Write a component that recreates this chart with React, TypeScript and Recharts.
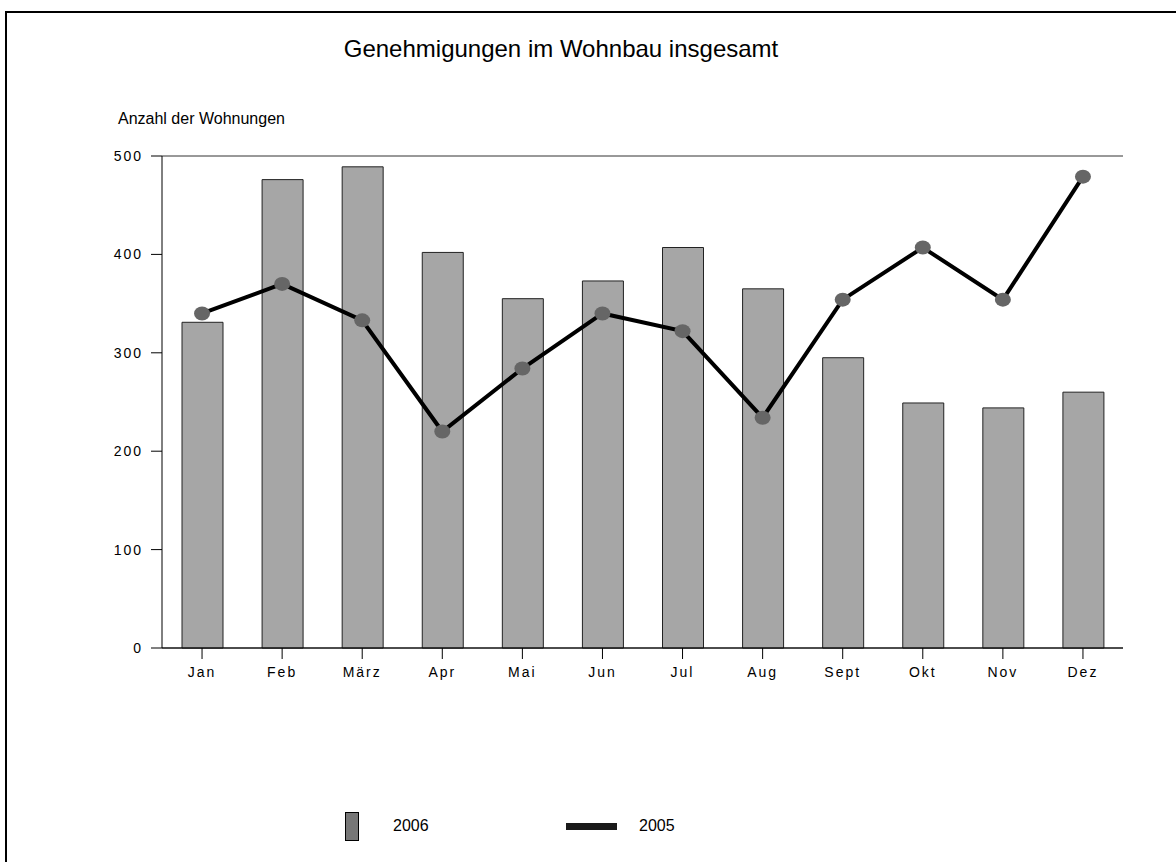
import React from "react";
import {
  ComposedChart,
  Bar,
  Line,
  XAxis,
  YAxis,
  CartesianGrid,
  Legend
} from "recharts";

// Monate
const months = ["Jan", "Feb", "März", "Apr", "Mai", "Jun", "Jul", "Aug", "Sept", "Okt", "Nov", "Dez"];

// Genehmigungen 2006 (Säulen)
const values2006 = [331, 476, 489, 402, 355, 373, 407, 365, 295, 249, 244, 260];

// Genehmigungen 2005 (Linie)
const values2005 = [340, 370, 333, 220, 284, 340, 322, 234, 354, 407, 354, 479];

const yTicks = [0, 100, 200, 300, 400, 500];

const data = months.map((m, i) => ({
  month: m,
  y2006: values2006[i],
  y2005: values2005[i]
}));

const FONT = "'Liberation Sans', Arial, sans-serif";

// grauer ovaler Punkt
function Dot(props: any) {
  const { cx, cy } = props;
  if (cx == null || cy == null) return null;
  return <ellipse cx={cx} cy={cy} rx={8} ry={7} fill="#666666" />;
}

function LegendBox() {
  return (
    <div style={{ position: "relative", height: 40, fontFamily: FONT, fontSize: 16, color: "#000" }}>
      <div
        style={{
          position: "absolute",
          left: 345,
          top: 0,
          width: 12,
          height: 27,
          background: "#777777",
          border: "1px solid #000"
        }}
      />
      <span style={{ position: "absolute", left: 393, top: 5 }}>2006</span>
      <div
        style={{
          position: "absolute",
          left: 566,
          top: 11,
          width: 51,
          height: 7,
          background: "#1a1a1a"
        }}
      />
      <span style={{ position: "absolute", left: 639, top: 5 }}>2005</span>
    </div>
  );
}

export default function App() {
  return (
    <div style={{ position: "absolute", left: 0, top: 0, width: 1176, height: 862, overflow: "hidden", background: "#fff", fontFamily: FONT }}>

      {/* Rahmen */}
      <div
        style={{
          position: "absolute",
          left: 5,
          top: 11,
          width: 1200,
          height: 900,
          borderLeft: "2px solid #000",
          borderTop: "2px solid #000"
        }}
      />

      <div style={{ position: "absolute", left: 0, top: 35, width: 1122, textAlign: "center", fontSize: 24, color: "#000" }}>
        Genehmigungen im Wohnbau insgesamt
      </div>

      <div style={{ position: "absolute", left: 118, top: 110, fontSize: 16, color: "#000" }}>
        Anzahl der Wohnungen
      </div>

      <div style={{ position: "absolute", left: 0, top: 0 }}>
        <ComposedChart
          width={1176}
          height={862}
          data={data}
          margin={{ top: 156, right: 53, bottom: 184, left: 0 }}
        >
          <CartesianGrid
            vertical={false}
            stroke="#333333"
            strokeWidth={1}
          />

          <XAxis
            dataKey="month"
            height={30}
            tickSize={11}
            tickMargin={8}
            stroke="#000"
            tick={{ fill: "#000", fontSize: 14, fontFamily: FONT, letterSpacing: 2 }}
          />

          <YAxis
            yAxisId="left"
            width={162}
            domain={[0, 500]}
            ticks={yTicks}
            tickSize={11}
            tickMargin={8}
            stroke="#000"
            tick={{ fill: "#000", fontSize: 14, fontFamily: FONT, letterSpacing: 2 }}
          />

          <YAxis
            yAxisId="right"
            orientation="right"
            width={0}
            domain={[0, 500]}
            tick={false}
            tickLine={false}
            stroke="#666666"
          />

          <Bar
            yAxisId="left"
            dataKey="y2006"
            name="2006"
            barSize={41}
            fill="#a6a6a6"
            stroke="#222"
            strokeWidth={1}
            isAnimationActive={false}
          />

          <Line
            yAxisId="left"
            dataKey="y2005"
            name="2005"
            type="linear"
            stroke="#000"
            strokeWidth={4}
            dot={<Dot />}
            activeDot={false}
            isAnimationActive={false}
          />

          <Legend
            layout="horizontal"
            align="center"
            verticalAlign="middle"
            content={<LegendBox />}
            wrapperStyle={{ position: "absolute", left: 0, top: 812, width: 1176 }}
          />
        </ComposedChart>
      </div>
    </div>
  );
}
